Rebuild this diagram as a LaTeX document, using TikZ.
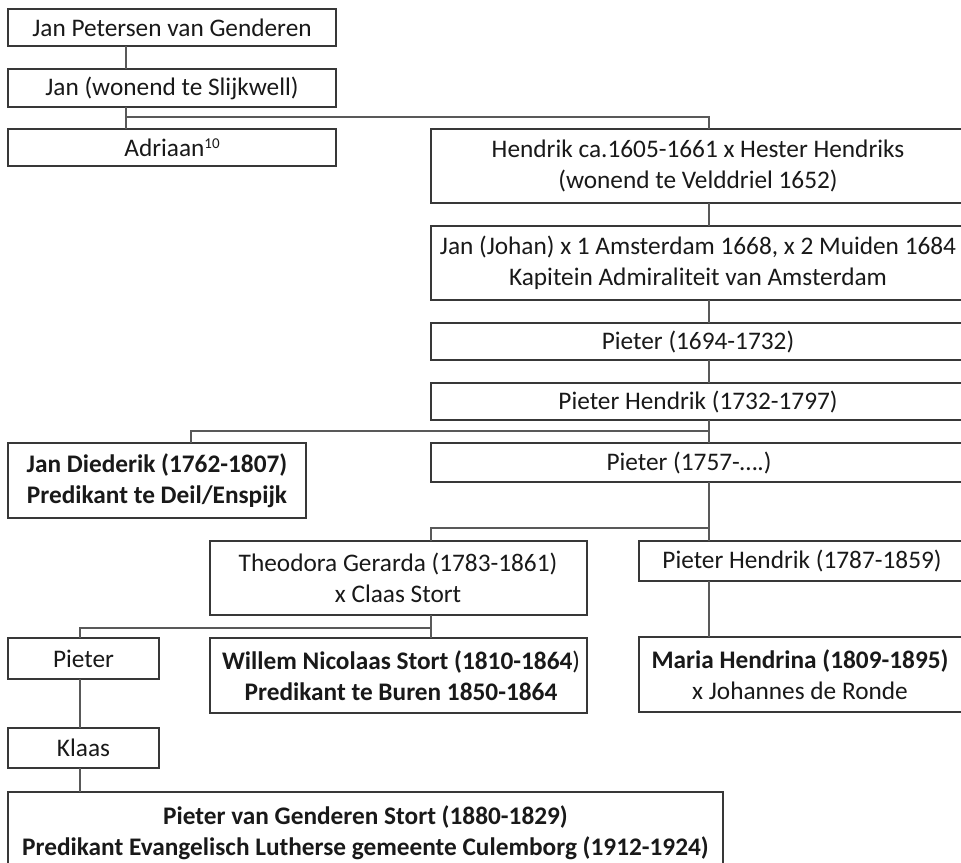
\documentclass[tikz,border=0pt]{standalone}
\usepackage{fontspec}
\setmainfont{Carlito}
\tikzset{
  famrect/.style={draw=black!78, line width=1.1pt, inner sep=0pt, outer sep=0pt, anchor=north west},
  famtxt/.style={inner sep=0pt, align=center, font=\fontsize{25.3}{31}\selectfont, text=black!90},
  link/.style={draw=black!65, line width=1.1pt},
}
\newcommand\famnode[8]{%
  \node[famrect, minimum width={(#4-#2)*1pt}, minimum height={(#5-#3)*1pt}] (#1) at (#2,#3) {};
  \node[famtxt] (#1t) at (#6,#7) {#8};}
\begin{document}
\begin{tikzpicture}[x=1pt,y=-1pt]
\useasboundingbox (0,0) rectangle (961,862);
\fill[white] (0,0) rectangle (961,862);
\famnode{jp}{8}{9}{336}{46}{172}{27.5}{Jan Petersen van Genderen}
\famnode{jw}{8}{69}{336}{107}{172}{88}{Jan (wonend te Slijkwell)}
\famnode{ad}{8}{129}{336}{166}{172}{147.5}{Adriaan{\fontsize{15}{15}\selectfont\raisebox{0.55em}{10}}}
\famnode{hk}{431}{129}{967}{203}{698}{166}{Hendrik ca.1605-1661 x Hester Hendriks\\(wonend te Velddriel 1652)}
\famnode{jj}{431}{226}{967}{300}{698}{263}{Jan (Johan) x 1 Amsterdam 1668, x 2 Muiden 1684\\Kapitein Admiraliteit van Amsterdam}
\famnode{pa}{431}{323}{967}{360}{698}{341.5}{Pieter (1694-1732)}
\famnode{pb}{431}{383}{967}{420}{698}{401.5}{Pieter Hendrik (1732-1797)}
\famnode{jd}{8}{443}{306}{518}{157}{480.5}{\textbf{Jan Diederik (1762-1807)}\\\textbf{Predikant te Deil/Enspijk}}
\famnode{pc}{431}{443}{967}{482}{689}{462.5}{Pieter (1757-….)}
\famnode{tg}{210}{541}{587}{615}{398}{578}{Theodora Gerarda (1783-1861)\\x Claas Stort}
\famnode{pd}{639}{541}{967}{581}{802}{561}{Pieter Hendrik (1787-1859)}
\famnode{pe}{8}{638}{159}{679}{83.5}{658.5}{Pieter}
\famnode{wn}{210}{638}{587}{713}{401}{675.5}{\textbf{Willem Nicolaas Stort (1810-1864}) \\\textbf{Predikant te Buren 1850-1864}}
\famnode{mh}{639}{637}{967}{712}{800}{674.5}{\textbf{Maria Hendrina (1809-1895)}\\x Johannes de Ronde}
\famnode{kl}{8}{728}{159}{768}{83.5}{748}{Klaas}
\famnode{ps}{8}{792}{723}{880}{365.5}{832.5}{\textbf{Pieter van Genderen Stort (1880-1829)}\\\textbf{Predikant Evangelisch Lutherse gemeente Culemborg (1912-1924)}}
\coordinate (xa) at (126,0);
\coordinate (xb) at (709,0);
\coordinate (xc) at (191,0);
\coordinate (xd) at (431,0);
\coordinate (xe) at (80,0);
\draw[link] (jp.south -| xa) -- (jw.north -| xa);
\draw[link] (jw.south -| xa) -- (ad.north -| xa);
\draw[link] (jw.south -| xa) ++(0,10) -| (hk.north -| xb);
\draw[link] (hk.south -| xb) -- (jj.north -| xb);
\draw[link] (jj.south -| xb) -- (pa.north -| xb);
\draw[link] (pa.south -| xb) -- (pb.north -| xb);
\draw[link] (pb.south -| xb) -- (pc.north -| xb);
\draw[link] (pb.south -| xb) ++(0,11) -| (jd.north -| xc);
\draw[link] (pc.south -| xb) -- (pd.north -| xb);
\draw[link] (pc.south -| xb) ++(0,46) -| (tg.north -| xd);
\draw[link] (pd.south -| xb) -- (mh.north -| xb);
\draw[link] (tg.south -| xd) -- (wn.north -| xd);
\draw[link] (tg.south -| xd) ++(0,13) -| (pe.north -| xe);
\draw[link] (pe.south -| xe) -- (kl.north -| xe);
\draw[link] (kl.south -| xe) -- (ps.north -| xe);
\end{tikzpicture}
\end{document}
